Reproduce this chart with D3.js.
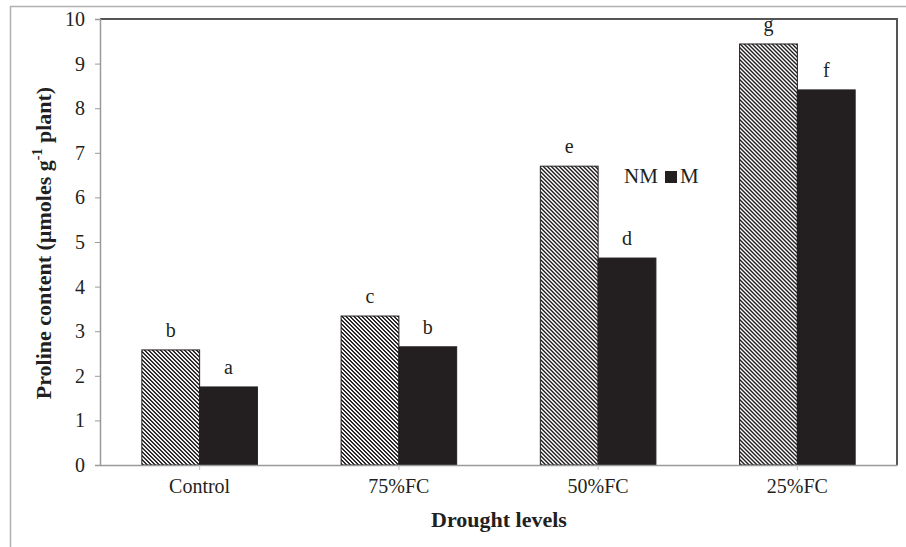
<!DOCTYPE html>
<html><head><meta charset="utf-8">
<script src="https://cdn.jsdelivr.net/npm/d3@7"></script>
<style>body{margin:0;background:#fff}svg{display:block}text{font-family:"Liberation Serif","Times New Roman",serif}</style>
</head><body>
<svg id="c" width="906" height="547"></svg>
<script>
const categories = ["Control","75%FC","50%FC","25%FC"];
const series = ["NM","M"];
const nmValues = [2.58, 3.34, 6.70, 9.44];
const mValues = [1.75, 2.65, 4.64, 8.41];
const nmLetters = ["b","c","e","g"];
const mLetters = ["a","b","d","f"];
const yTicks = [0,1,2,3,4,5,6,7,8,9,10];

const svg = d3.select("#c");
const L = 100, R = 897, T = 19, B = 465;

const defs = svg.append("defs");
const pat = defs.append("pattern").attr("id","hatch").attr("patternUnits","userSpaceOnUse")
  .attr("width",4).attr("height",4);
pat.append("rect").attr("width",4).attr("height",4).attr("fill","#fff");
// pixel-aligned diagonal stripe (top-left to bottom-right), 2px wide
d3.range(4).forEach(i=>{
  [0,1].forEach(k=>{
    pat.append("rect").attr("x",(i+k)%4).attr("y",i).attr("width",1).attr("height",1)
      .attr("fill","#231f20").attr("shape-rendering","crispEdges");
  });
});

// outer frame
svg.append("line").attr("x1",10).attr("x2",906).attr("y1",6.5).attr("y2",6.5).attr("stroke","#b0b0b0").attr("stroke-width",1.5);
svg.append("line").attr("x1",10.5).attr("x2",10.5).attr("y1",6).attr("y2",547).attr("stroke","#b0b0b0").attr("stroke-width",1.5);

const x0 = d3.scaleBand().domain(categories).range([L,R]).paddingInner(0.42).paddingOuter(0.21);
const x1 = d3.scaleBand().domain(series).range([0,x0.bandwidth()]);
const y = d3.scaleLinear().domain([0,10]).range([B,T]);

// plot border top/right
svg.append("path").attr("d",`M${L},${T}H${R}V${B}`).attr("fill","none").attr("stroke","#555").attr("stroke-width",2);

const data = categories.map((c,i)=>({c, vals:[{s:"NM",v:nmValues[i],l:nmLetters[i]},{s:"M",v:mValues[i],l:mLetters[i]}]}));
const g = svg.append("g");
const grp = g.selectAll("g").data(data).join("g").attr("transform",d=>`translate(${x0(d.c)},0)`);
grp.selectAll("rect").data(d=>d.vals).join("rect")
  .attr("x",d=>x1(d.s)).attr("width",x1.bandwidth())
  .attr("y",d=>y(d.v)).attr("height",d=>B-y(d.v))
  .attr("fill",d=>d.s==="NM"?"url(#hatch)":"#231f20")
  .attr("stroke","#231f20").attr("stroke-width",1);
grp.selectAll("text").data(d=>d.vals).join("text")
  .attr("x",d=>x1(d.s)+x1.bandwidth()/2).attr("y",d=>y(d.v)-13)
  .attr("text-anchor","middle").attr("font-size",20).attr("fill","#231f20").text(d=>d.l);

// axes
const yAxis = d3.axisLeft(y).tickValues(yTicks).tickSize(5).tickPadding(10);
const ya = svg.append("g").attr("transform",`translate(${L},0)`).call(yAxis);
ya.select(".domain").attr("stroke","#9a9a9a").attr("stroke-width",1.5);
ya.selectAll(".tick line").attr("stroke","#9a9a9a");
ya.selectAll(".tick text").attr("font-size",20).attr("fill","#231f20").attr("font-family","Liberation Serif");

const xAxis = d3.axisBottom(x0).tickSize(5).tickPadding(9).tickSizeOuter(0);
const xa = svg.append("g").attr("transform",`translate(0,${B})`).call(xAxis);
xa.select(".domain").attr("stroke","#9a9a9a").attr("stroke-width",1.5);
xa.selectAll(".tick line").attr("stroke","#c0c0c0");
xa.selectAll(".tick text").attr("font-size",20).attr("fill","#231f20").attr("font-family","Liberation Serif");

// axis titles
svg.append("text").attr("x",499).attr("y",527).attr("text-anchor","middle")
  .attr("font-size",22).attr("font-weight","bold").attr("fill","#231f20").text("Drought levels");
const yt = svg.append("text").attr("transform","translate(51,243) rotate(-90)").attr("text-anchor","middle")
  .attr("font-size",22).attr("font-weight","bold").attr("fill","#231f20");
yt.append("tspan").text("Proline content (µmoles g");
yt.append("tspan").attr("dy",-9).attr("font-size",14).text("-1");
yt.append("tspan").attr("dy",9).text(" plant)");

// legend
const lg = svg.append("g");
lg.append("text").attr("x",624).attr("y",183).attr("font-size",21).attr("fill","#231f20").text(series[0]);
lg.append("rect").attr("x",665).attr("y",171).attr("width",12).attr("height",12).attr("fill","#231f20");
lg.append("text").attr("x",680).attr("y",183).attr("font-size",21).attr("fill","#231f20").text(series[1]);
</script>
</body></html>
